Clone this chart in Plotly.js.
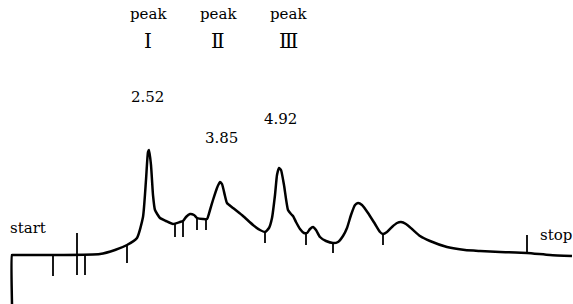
<!DOCTYPE html>
<html>
<head>
<meta charset="utf-8">
<script src="https://cdn.plot.ly/plotly-3.0.1.min.js"></script>
<style>html,body{margin:0;padding:0;background:#fff;}#chart{width:573px;height:304px;}</style>
</head>
<body>
<div id="chart"></div>
<script>
// Chromatogram trace (time, detector signal)
const time = [12,12,13,60,100,115,127,137,143,146,148,149,151,153,155,160,166,173,180,183,186,190,194,197,203,207,210,213,217,220,222,225,227,233,243,253,260,265,269,272,275,277,279,281,284,288,291,293,296,300,304,307,310,313,316,320,326,333,338,343,347,351,355,358,362,368,375,380,383,387,392,397,401,406,412,420,430,447,465,480,500,527,550,572];
const signal = [0,49,49,49,50,54,59,66,87,124,152,154,139,109,94,86,83,80,82,83,87,90,89,86,85,85,94,104,116,122,120,108,101,96,88,79,74,72,76,86,109,129,136,134,119,94,90,88,82,75,71,71,75,77,74,67,63,61,62,68,76,89,99,101,99,91,80,72,70,72,77,81,82,80,75,68,63,57,54,53,52,51,49,48];

// Integration event marks
const markTime = [53,77,85,127,175,183,197,206,265,306,333,383,527];
const markTop = [49,71,49,59,80,82,86,85,72,71,61,70,69];
const markBottom = [28,29,29,41,67,67,74,74,61,59,51,59,51];

// Peak labels
const peakNames = ["peak","peak","peak"];
const peakNumerals = ["Ⅰ","Ⅱ","Ⅲ"];
const peakLabelTime = [148,218,288];
const retentionTimes = ["2.52","3.85","4.92"];
const rtLabelTime = [147,221,280];
const rtLabelSignal = [207,166,185];

const mx = [], my = [];
markTime.forEach((t,i)=>{ mx.push(t,t,null); my.push(markBottom[i], markTop[i], null); });

const font = {family: "DejaVu Serif, Noto Sans CJK JP, serif", size: 15, color: "#000"};
const numFont = {family: "DejaVu Serif, Noto Sans CJK JP, serif", size: 20, color: "#000"};
const annotations = [];
peakLabelTime.forEach((t,i)=>{
  annotations.push({x:t, y:290, xref:'x', yref:'y', text:peakNames[i], showarrow:false, font});
  annotations.push({x:t, y:263, xref:'x', yref:'y', text:peakNumerals[i], showarrow:false, font:numFont});
});
rtLabelTime.forEach((t,i)=>{
  annotations.push({x:t, y:rtLabelSignal[i], xref:'x', yref:'y', text:retentionTimes[i], showarrow:false, font});
});
annotations.push({x:28, y:76, xref:'x', yref:'y', text:"start", showarrow:false, font});
annotations.push({x:556, y:69, xref:'x', yref:'y', text:"stop", showarrow:false, font});

const traces = [
  {x: time, y: signal, mode: 'lines', line: {color: '#000', width: 2.5, shape: 'spline', smoothing: 0.5}, hoverinfo: 'skip'},
  {x: mx, y: my, mode: 'lines', line: {color: '#000', width: 1.8}, hoverinfo: 'skip', connectgaps: false}
];
const layout = {
  width: 573, height: 304,
  margin: {l:0, r:0, t:0, b:0},
  paper_bgcolor: '#fff', plot_bgcolor: '#fff',
  showlegend: false,
  xaxis: {range:[0,573], visible:false, fixedrange:true},
  yaxis: {range:[0,304], visible:false, fixedrange:true},
  annotations
};
Plotly.newPlot('chart', traces, layout, {staticPlot:true, displayModeBar:false});
</script>
</body>
</html>
